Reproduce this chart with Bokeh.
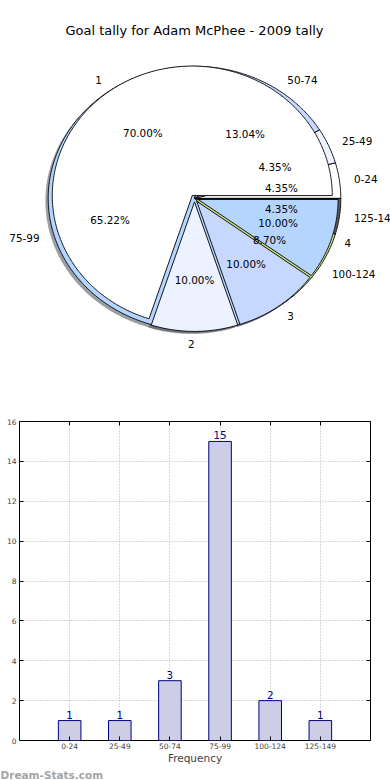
import numpy as np
from bokeh.plotting import figure
from bokeh.models import Range1d, FixedTicker, LinearAxis, Label, Title
from bokeh.layouts import column
from bokeh.embed import file_html
from bokeh.resources import INLINE
from bokeh.core.properties import value

# ---------------- data ----------------
chart_title = "Goal tally for Adam McPhee - 2009 tally"

goal_labels = ["1", "2", "3", "4"]
goal_counts = [7, 1, 1, 1]

range_labels = ["0-24", "25-49", "50-74", "75-99", "100-124", "125-149"]
range_counts = [1, 1, 3, 15, 2, 1]

y_ticks = [0, 2, 4, 6, 8, 10, 12, 14, 16]

x_title = "Frequency"
y_title = "Goal Tally"
watermark = "Dream-Stats.com"

# ---------------- styles ----------------
FONT = value("DejaVu Sans")
palette = ["#ffffff", "#ecf2ff", "#c6d8ff", "#b4d5ff", "#cbe07e", "#5f5f5f"]

W = 390
BORDER_L, BORDER_R = 19, 20      # bar chart frame borders
FIG1_H = 406
SX, SY = 140.0, 129.5            # px per pie unit
CX_PX, CY_PX = 194.0, 197.9      # pie centre in canvas px
EXPLODE = 0.027
RB = (1.045, 1.02)
SHADOW = (-0.02, -0.02)


def wedge_xy(cx, cy, rx, ry, a0, a1):
    n = max(int(np.degrees(a1 - a0) * 1.5), 3)
    t = np.linspace(a0, a1, n)
    xs = np.concatenate([[cx], cx + rx * np.cos(t), [cx]])
    ys = np.concatenate([[cy], cy + ry * np.sin(t), [cy]])
    return list(xs), list(ys)


def shade(hexcol):
    h = hexcol.lstrip("#")
    r, g, b = (int(h[i:i + 2], 16) for i in (0, 2, 4))
    return "#%02x%02x%02x" % (int(r * 0.3), int(g * 0.3), int(b * 0.3))


def angles(counts):
    c = np.asarray(counts, dtype=float)
    frac = c / c.sum()
    edges = np.concatenate([[0.0], np.cumsum(frac)]) * 2 * np.pi
    return frac, edges[:-1], edges[1:]


p1 = figure(width=W, height=FIG1_H, output_backend="svg", toolbar_location=None,
            x_range=Range1d(-CX_PX / SX, (W - CX_PX) / SX),
            y_range=Range1d((CY_PX - FIG1_H) / SY, CY_PX / SY),
            x_axis_type=None, y_axis_type=None, min_border=0)
p1.frame_align = False
p1.outline_line_color = None
p1.grid.visible = False

fa, a0a, a1a = angles(goal_counts)
fb, a0b, a1b = angles(range_counts)

# shadows (below everything)
sh_x, sh_y, sh_c = [], [], []
for i in range(len(range_counts)):
    xs, ys = wedge_xy(SHADOW[0], SHADOW[1], RB[0], RB[1], a0b[i], a1b[i])
    sh_x.append(xs); sh_y.append(ys); sh_c.append(shade(palette[i % len(palette)]))
for i in range(len(goal_counts)):
    m = (a0a[i] + a1a[i]) / 2
    ox, oy = EXPLODE * np.cos(m), EXPLODE * np.sin(m)
    xs, ys = wedge_xy(ox + SHADOW[0], oy + SHADOW[1], 1.0, 1.0, a0a[i], a1a[i])
    sh_x.append(xs); sh_y.append(ys); sh_c.append(shade(palette[i % len(palette)]))
p1.patches(sh_x, sh_y, fill_color=sh_c, fill_alpha=0.5, line_color=None)

# pie B (minute ranges)
bx, by = [], []
for i in range(len(range_counts)):
    xs, ys = wedge_xy(0.0, 0.0, RB[0], RB[1], a0b[i], a1b[i])
    bx.append(xs); by.append(ys)
p1.patches(bx, by, fill_color=[palette[i % len(palette)] for i in range(len(range_counts))],
           line_color="black", line_width=0.9)

# pie A (goals), exploded
ax_, ay_ = [], []
for i in range(len(goal_counts)):
    m = (a0a[i] + a1a[i]) / 2
    ox, oy = EXPLODE * np.cos(m), EXPLODE * np.sin(m)
    xs, ys = wedge_xy(ox, oy, 1.0, 1.0, a0a[i], a1a[i])
    ax_.append(xs); ay_.append(ys)
p1.patches(ax_, ay_, fill_color=[palette[i % len(palette)] for i in range(len(goal_counts))],
           line_color="black", line_width=0.9)

# outer labels and percentages
lx, ly, lt, la = [], [], [], []
px_, py_, pt_ = [], [], []
for i in range(len(range_counts)):
    m = (a0b[i] + a1b[i]) / 2
    c, s = np.cos(m), np.sin(m)
    lx.append(1.1 * RB[0] * c); ly.append(1.1 * RB[1] * s); lt.append(range_labels[i])
    la.append("left" if c > 0 else "right")
    px_.append(0.6 * RB[0] * c); py_.append(0.6 * RB[1] * s); pt_.append("%.2f%%" % (fb[i] * 100))
for i in range(len(goal_counts)):
    m = (a0a[i] + a1a[i]) / 2
    c, s = np.cos(m), np.sin(m)
    lx.append((1.1 + EXPLODE) * c); ly.append((1.1 + EXPLODE) * s); lt.append(goal_labels[i])
    la.append("left" if c > 0 else "right")
    px_.append((0.6 + EXPLODE) * c); py_.append((0.6 + EXPLODE) * s); pt_.append("%.2f%%" % (fa[i] * 100))

p1.text(x=lx, y=ly, text=lt, text_align=la, text_baseline="middle",
        text_font=FONT, text_font_size="10.4px", text_color="black")
p1.text(x=px_, y=py_, text=pt_, text_align="center", text_baseline="middle",
        text_font=FONT, text_font_size="10.4px", text_color="black")
p1.text(x=[0.0], y=[(CY_PX - 30) / SY], text=[chart_title], text_align="center",
        text_baseline="middle", text_font=FONT, text_font_size="13px", text_color="black")

# ---------------- bar chart ----------------
idx = list(range(len(range_labels)))
p2 = figure(width=W, height=374, output_backend="svg", toolbar_location=None,
            x_range=Range1d(-1, len(range_labels)), y_range=Range1d(y_ticks[0], y_ticks[-1]),
            min_border_top=15, min_border_bottom=40, min_border_right=BORDER_R,
            min_border_left=BORDER_L)
p2.frame_align = False
p2.outline_line_color = "black"
p2.outline_line_width = 1

p2.vbar(x=idx, top=range_counts, width=0.45, fill_color="#cdcde6",
        line_color="#000080", line_width=1)
p2.text(x=idx, y=range_counts, text=[str(v) for v in range_counts], text_align="center",
        text_baseline="bottom", y_offset=-2, text_font=FONT, text_font_size="10.4px",
        text_color="#000080")

for g in (p2.xgrid, p2.ygrid):
    g.grid_line_color = "#b0b0b0"
    g.grid_line_dash = "1 2"
    g.grid_line_width = 1
p2.xgrid.ticker = FixedTicker(ticks=idx)
p2.ygrid.ticker = FixedTicker(ticks=y_ticks)

xa = p2.xaxis[0]
xa.ticker = FixedTicker(ticks=idx)
xa.major_label_overrides = {i: lab for i, lab in enumerate(range_labels)}
xa.axis_label = x_title
ya = p2.yaxis[0]
ya.ticker = FixedTicker(ticks=y_ticks)

for a in (xa, ya):
    a.axis_line_color = None
    a.major_tick_in = 4
    a.major_tick_out = 0
    a.minor_tick_line_color = None
    a.major_label_text_font = "DejaVu Sans"
    a.major_label_text_font_size = "7.5px"
    a.major_label_standoff = 3
    a.axis_label_text_font = "DejaVu Sans"
    a.axis_label_text_font_style = "normal"
xa.axis_label_text_font_size = "10.5px"
xa.axis_label_standoff = 0
xa.major_label_standoff = 2
ya.major_label_standoff = 3

ra = LinearAxis(ticker=FixedTicker(ticks=y_ticks), axis_line_color=None, major_tick_in=4,
                major_tick_out=0, minor_tick_line_color=None, major_label_text_color=None,
                major_label_standoff=0, major_label_text_font_size="7.5px")
ta = LinearAxis(ticker=FixedTicker(ticks=idx), axis_line_color=None, major_tick_in=4,
                major_tick_out=0, minor_tick_line_color=None, major_label_text_color=None,
                major_label_standoff=0, major_label_text_font_size="7.5px")
p2.add_layout(ra, "right")
p2.add_layout(ta, "above")

# y-axis title, placed at the canvas edge as in the original
px_per_x = (W - BORDER_L - BORDER_R) / (len(range_labels) + 1)
p2.add_layout(Label(x=-1 - 13 / px_per_x, y=(y_ticks[0] + y_ticks[-1]) / 2, text=y_title,
                    angle=np.pi / 2, text_align="center", text_baseline="bottom",
                    text_font="DejaVu Sans", text_font_size="10px", text_color="black"))
# watermark
p2.add_layout(Title(text=watermark, align="left", offset=-BORDER_L, standoff=0,
                    text_font="DejaVu Sans", text_font_size="10.5px", text_font_style="bold",
                    text_color="#a4a4a4"), "below")

layout = column(p1, p2, spacing=0)
open("out.html", "w").write(file_html(layout, INLINE))
